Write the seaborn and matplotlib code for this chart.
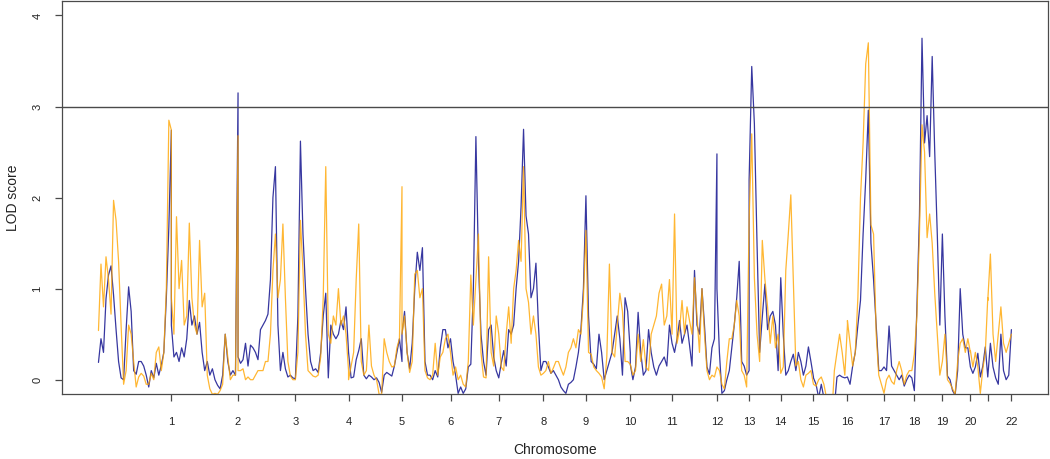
import numpy as np
import pandas as pd
import matplotlib

matplotlib.use("Agg")
import matplotlib.pyplot as plt
import seaborn as sns

# genome scan: LOD score along the 22 autosomes, two analyses
chrom_names = [str(i) for i in range(1, 23)]
chrom_len_cm = [281, 257, 221, 205, 206, 187, 186, 172, 164, 171, 161,
                173, 124, 122, 126, 131, 141, 117, 108, 108, 67, 91]

# LOD values on an even grid along each chromosome
lod_blue = [
    [0.19, 0.45, 0.3, 0.89, 1.15, 1.25, 0.93, 0.55, 0.2, 0.02, 0.0, 0.55, 1.02, 0.75, 0.1,
     0.06, 0.2, 0.2, 0.15, 0.05, -0.08, 0.1, 0.02, 0.18, 0.05, 0.16, 0.3, 0.9, 1.68, 2.74],
    [0.6, 0.25, 0.3, 0.2, 0.35, 0.25, 0.45, 0.87, 0.6, 0.7, 0.5, 0.63, 0.3, 0.1, 0.2,
     0.05, 0.12, 0.0, -0.06, -0.1, 0.05, 0.5, 0.2, 0.05, 0.1, 0.05, 3.15],
    [0.25, 0.18, 0.22, 0.4, 0.15, 0.38, 0.35, 0.3, 0.22, 0.55, 0.6, 0.65, 0.72, 1.1, 2.0,
     2.34, 0.6, 0.1, 0.3, 0.12, 0.03, 0.05, 0.02, 0.01],
    [0.01, 0.7, 2.62, 1.6, 1.0, 0.5, 0.2, 0.1, 0.12, 0.08, 0.3, 0.7, 0.95, 0.02, 0.6,
     0.5, 0.45, 0.5, 0.65, 0.55, 0.8, 0.3],
    [0.3, 0.02, 0.03, 0.22, 0.32, 0.45, 0.05, 0.01, 0.05, 0.03, 0.0, 0.02, -0.03, -0.14,
     0.05, 0.08, 0.06, 0.04, 0.15, 0.3, 0.45, 0.2],
    [0.5, 0.75, 0.3, 0.12, 0.4, 1.0, 1.4, 1.2, 1.45, 0.2, 0.05, 0.05, 0.0, 0.1, 0.03,
     0.35, 0.55, 0.55, 0.35, 0.45],
    [0.45, 0.2, 0.05, -0.15, -0.08, -0.15, -0.1, 0.14, 0.17, 1.0, 2.67, 1.3, 0.5, 0.2,
     0.05, 0.55, 0.6, 0.25, 0.1, 0.02],
    [0.02, 0.18, 0.32, 0.15, 0.55, 0.5, 0.6, 1.0, 1.3, 1.9, 2.75, 1.8, 1.6, 0.9, 1.0,
     1.28, 0.6, 0.1, 0.2],
    [0.2, 0.2, 0.14, 0.07, 0.1, 0.05, 0.0, -0.08, -0.12, -0.15, -0.05, -0.03, 0.0, 0.14,
     0.3, 0.55, 1.0, 2.02],
    [2.02, 0.7, 0.2, 0.17, 0.12, 0.5, 0.3, 0.0, 0.1, 0.2, 0.3, 0.5, 0.7, 0.45, 0.05,
     0.9, 0.75, 0.3],
    [0.17, 0.0, 0.14, 0.74, 0.3, 0.05, 0.1, 0.55, 0.3, 0.14, 0.05, 0.15, 0.2, 0.25, 0.15,
     0.6, 0.4],
    [0.4, 0.3, 0.45, 0.65, 0.4, 0.5, 0.6, 0.38, 0.15, 1.2, 0.6, 0.5, 1.0, 0.6, 0.14,
     0.06, 0.35, 0.45, 2.48],
    [1.0, 0.3, -0.15, -0.12, 0.0, 0.1, 0.35, 0.6, 0.9, 1.3, 0.2, 0.15, 0.05, 0.1],
    [2.19, 3.44, 2.81, 1.5, 0.3, 0.69, 1.05, 0.55, 0.7, 0.75, 0.6, 0.1, 1.12],
    [1.12, 0.5, 0.05, 0.1, 0.2, 0.28, 0.1, 0.3, 0.2, 0.05, 0.15, 0.36, 0.2, 0.03],
    [0.02, -0.05, -0.2, -0.05, -0.2, -0.3, -0.4, -0.4, -0.3, 0.03, 0.05, 0.03, 0.02, 0.03],
    [0.03, -0.05, 0.15, 0.3, 0.6, 0.87, 1.6, 2.2, 2.96, 1.5, 1.1, 0.6, 0.1, 0.1, 0.14],
    [0.14, 0.1, 0.59, 0.15, 0.1, 0.05, 0.0, 0.05, -0.07, 0.0, 0.05, 0.02, -0.12],
    [-0.12, 0.8, 1.8, 3.75, 2.6, 2.9, 2.45, 3.55, 2.5, 1.6, 0.6, 1.6],
    [1.6, 0.7, 0.04, 0.0, -0.12, -0.17, 0.1, 1.0, 0.5, 0.35, 0.35, 0.14],
    [0.14, 0.07, 0.14, 0.29, 0.03, 0.15, 0.36, 0.03],
    [0.03, 0.4, 0.14, 0.02, -0.05, 0.5, 0.1, 0.0, 0.05, 0.55],
]

lod_orange = [
    [0.54, 1.27, 0.8, 1.35, 1.1, 0.72, 1.97, 1.75, 1.3, 0.6, -0.05, 0.1, 0.6, 0.5, 0.2,
     -0.08, 0.03, 0.07, 0.04, -0.05, -0.05, 0.07, 0.0, 0.3, 0.36, 0.1, 0.3, 1.0, 2.85, 2.74],
    [0.9, 0.5, 1.79, 1.0, 1.31, 0.6, 0.7, 1.72, 0.9, 0.6, 0.5, 1.53, 0.8, 0.95, 0.05,
     -0.1, -0.16, -0.15, -0.16, -0.12, -0.05, 0.5, 0.25, 0.0, 0.05, 0.05, 2.68],
    [0.1, 0.1, 0.12, 0.0, 0.03, 0.0, 0.0, 0.05, 0.1, 0.1, 0.1, 0.2, 0.2, 0.5, 1.2,
     1.6, 0.9, 1.1, 1.71, 0.9, 0.2, 0.04, 0.0, 0.0],
    [0.0, 0.3, 1.75, 1.2, 0.5, 0.1, 0.07, 0.04, 0.03, 0.05, 0.25, 0.9, 2.34, 0.5, 0.4,
     0.7, 0.6, 1.0, 0.6, 0.7, 0.5, 0.1],
    [0.0, 0.15, 0.3, 1.1, 1.71, 0.2, 0.05, 0.1, 0.6, 0.15, 0.05, 0.0, -0.16, -0.16, 0.45,
     0.3, 0.2, 0.14, 0.15, 0.35, 0.45, 2.12],
    [0.5, 0.7, 0.3, 0.08, 0.2, 1.16, 1.2, 0.9, 1.0, 0.1, 0.02, 0.0, 0.05, 0.4, 0.05,
     0.25, 0.3, 0.45, 0.5, 0.3],
    [0.3, 0.05, 0.14, 0.0, 0.05, -0.05, -0.08, 0.2, 1.15, 0.6, 1.1, 1.6, 0.3, 0.03,
     0.02, 1.35, 0.3, 0.15, 0.7, 0.5],
    [0.5, 0.14, 0.1, 0.5, 0.8, 0.4, 1.0, 1.2, 1.53, 1.3, 2.34, 1.0, 0.85, 0.5, 0.7,
     0.5, 0.14, 0.05, 0.07],
    [0.07, 0.1, 0.2, 0.07, 0.13, 0.2, 0.2, 0.12, 0.05, 0.14, 0.3, 0.35, 0.45, 0.35,
     0.55, 0.5, 0.9, 1.64],
    [1.64, 0.3, 0.28, 0.14, 0.1, 0.07, 0.03, -0.1, 0.25, 1.27, 0.3, 0.25, 0.6, 0.95,
     0.75, 0.2, 0.2, 0.17],
    [0.17, 0.05, 0.1, 0.5, 0.2, 0.44, 0.14, 0.1, 0.5, 0.6, 0.7, 0.95, 1.05, 0.6, 0.7,
     1.1, 0.5],
    [0.5, 1.82, 0.4, 0.55, 0.87, 0.5, 0.8, 0.65, 0.5, 1.12, 0.7, 0.3, 1.0, 0.5, 0.1,
     0.0, 0.05, 0.03, 0.14],
    [0.14, 0.1, -0.05, -0.1, 0.2, 0.45, 0.45, 0.6, 0.87, 0.7, 0.1, 0.05, -0.08, 1.75],
    [1.75, 2.7, 1.12, 0.5, 0.2, 1.53, 1.1, 0.8, 0.4, 0.7, 0.35, 0.5, 0.07],
    [0.07, 0.14, 1.2, 1.6, 2.03, 1.1, 0.15, 0.2, 0.0, -0.08, 0.05, 0.07, 0.1, -0.05],
    [-0.05, -0.07, 0.0, 0.03, -0.05, -0.2, -0.4, -0.4, 0.1, 0.3, 0.5, 0.3, 0.05, 0.6],
    [0.65, 0.4, 0.15, 0.3, 0.9, 2.0, 2.6, 3.47, 3.7, 1.7, 1.6, 0.5, 0.05, -0.05, -0.15],
    [-0.15, 0.0, 0.05, -0.02, -0.05, 0.1, 0.2, 0.1, -0.05, 0.05, 0.1, 0.1, 0.28],
    [0.28, 0.7, 1.6, 2.8, 2.5, 1.56, 1.82, 1.5, 0.95, 0.5, 0.05, 0.2],
    [0.2, 0.5, 0.0, -0.04, -0.1, -0.16, 0.2, 0.4, 0.45, 0.3, 0.45, 0.3],
    [0.32, 0.14, 0.3, 0.14, -0.15, 0.12, 0.3, 0.9],
    [0.87, 1.38, 0.5, 0.2, 0.5, 0.8, 0.4, 0.3, 0.4, 0.5],
]

threshold = 3
blue_color = "#14148f"
orange_color = "#ffa500"
frame_color = "#4a4a4a"


def genome_frame(values_by_chrom):
    rows = []
    offset = 0.0
    for name, length, vals in zip(chrom_names, chrom_len_cm, values_by_chrom):
        pos = offset + np.linspace(0, length, len(vals))
        rows.append(pd.DataFrame({"chrom": name, "pos": pos, "lod": vals}))
        offset += length
    return pd.concat(rows, ignore_index=True)


df_blue = genome_frame(lod_blue)
df_orange = genome_frame(lod_orange)
chrom_ends = np.cumsum(chrom_len_cm)
total = chrom_ends[-1]

sns.set_theme(style="ticks")
plt.rcParams["font.family"] = ["Liberation Sans", "DejaVu Sans"]

fig = plt.figure(figsize=(10.5, 4.59), dpi=100)
ax = fig.add_axes([0.059, 0.141, 0.939, 0.857])

sns.lineplot(data=df_blue, x="pos", y="lod", estimator=None, sort=False,
             color=blue_color, linewidth=0.9, alpha=0.85, ax=ax)
sns.lineplot(data=df_orange, x="pos", y="lod", estimator=None, sort=False,
             color=orange_color, linewidth=0.9, alpha=0.8, ax=ax)
ax.axhline(threshold, color=frame_color, linewidth=1.0)

ax.set_xlim(-0.04 * total, 1.04 * total)
ax.set_ylim(-0.16, 4.16)
ax.set_xticks(chrom_ends)
ax.set_xticklabels(["" if c == "21" else c for c in chrom_names])
ax.set_yticks([0, 1, 2, 3, 4])
ax.set_yticklabels(["0", "1", "2", "3", "4"], rotation=90, va="center")

for side in ["top", "right", "bottom", "left"]:
    ax.spines[side].set_visible(True)
    ax.spines[side].set_color(frame_color)
    ax.spines[side].set_linewidth(0.9)
ax.tick_params(axis="both", direction="out", length=5, width=0.9,
               color=frame_color, labelsize=8, labelcolor="#222222")
ax.tick_params(axis="x", pad=11)
ax.tick_params(axis="y", pad=9)

ax.set_xlabel("Chromosome", fontsize=10, color="#222222", labelpad=12)
ax.set_ylabel("LOD score", fontsize=10, color="#222222", labelpad=9)

fig.savefig("out.png", dpi=100)
